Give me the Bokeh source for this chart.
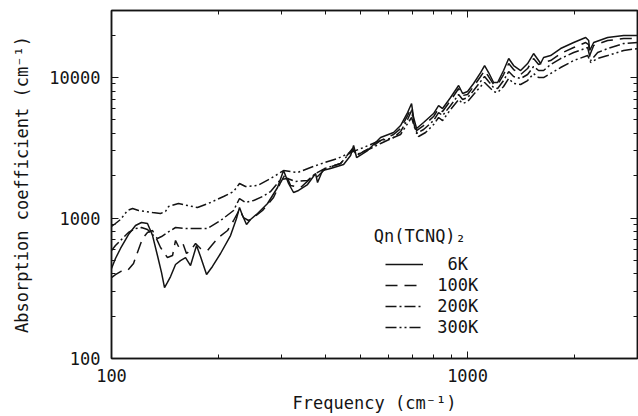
from bokeh.plotting import figure
from bokeh.models import (LogAxis, FixedTicker, PrintfTickFormatter, Legend, LegendItem,
                          Range1d, Label)
from bokeh.embed import file_html
from bokeh.resources import INLINE

# ---- data (frequency in cm^-1, absorption coefficient in cm^-1)
f_6k = [100, 102.6, 106.0, 111.6, 116.8, 121.4, 126.2, 130.4, 134.6, 138.2, 140.9, 143.6,
        146.5, 151.3, 156.2, 161.4, 166.7, 173.3, 177.8, 184.9, 192.1, 202.4, 215.9, 224.4,
        228.8, 233.3, 239.4, 245.7, 257.1, 274.3, 292.6, 304.2, 314.2, 324.5, 335.2, 355.2,
        374.1, 379.0, 391.5, 412.3, 448.5, 469.3, 478.5, 487.9, 523.8, 569.7, 619.6, 648.3,
        678.4, 696.1, 705.2, 719.0, 752.3, 802.6, 828.9, 850.7, 895.8, 943.6, 968.3, 1000,
        1039.6, 1087.7, 1116.2, 1145.5, 1183.1, 1214.2, 1261.9, 1304.5, 1346.4, 1408.9,
        1474.0, 1532.2, 1582.6, 1603.2, 1634.7, 1710.4, 1824.7, 1985.7, 2145.9, 2187.9,
        2202.1, 2259.8, 2473.6, 2743.3, 3003.6]
a_6k = [437, 515, 607, 763, 884, 929, 914, 750, 541, 409, 320, 348,
        383, 467, 498, 523, 459, 637, 532, 396, 452, 559, 750, 992,
        1188, 1042, 899, 976, 1076, 1269, 1649, 2178, 1761, 1519, 1570, 1732,
        2074, 1789, 2178, 2250, 2403, 2785, 3281, 2695, 3023, 3741, 4060, 4553,
        5634, 6531, 5192, 4335, 4783, 5543, 6319, 6016, 7206, 8770, 7692, 7948,
        9066, 10854, 12172, 10854, 9214, 9214, 11214, 13652, 12172, 11214,
        12579, 14818, 13213, 12579, 13877, 14339, 16082, 17746, 19271, 18337,
        15567, 17746, 19271, 19907, 19907]

f_100k = [100, 102.6, 106.0, 110.9, 115.3, 119.1, 122.2, 126.2, 130.4, 132.9, 137.3, 143.6,
          148.4, 151.3, 154.2, 158.3, 162.4, 166.7, 172.2, 177.8, 186.1, 192.1, 199.7, 211.8,
          220.2, 228.8, 234.8, 242.6, 250.6, 265.6, 285.1, 298.4, 308.2, 318.3, 339.6, 362.2,
          379.0, 399.2, 439.8, 475.4, 487.9, 534.0, 569.7, 619.6, 648.3, 678.4, 696.1, 705.2,
          719.0, 752.3, 802.6, 828.9, 850.7, 895.8, 943.6, 968.3, 1000, 1039.6, 1087.7,
          1116.2, 1145.5, 1183.1, 1214.2, 1261.9, 1304.5, 1346.4, 1408.9, 1474.0, 1532.2,
          1582.6, 1634.7, 1710.4, 1824.7, 1985.7, 2145.9, 2187.9, 2202.1, 2259.8, 2473.6,
          2743.3, 3003.6]
a_100k = [377, 396, 416, 423, 475, 597, 715, 789, 815, 738, 617, 523,
          541, 692, 627, 669, 559, 587, 658, 607, 587, 648, 726, 815,
          960, 1150, 1008, 960, 1008, 1131, 1399, 1789, 2074, 1703, 1649, 1910,
          1974, 2250, 2443, 3124, 2785, 3176, 3561, 3929, 4335, 5364, 6114, 5023,
          4196, 4553, 5277, 6016, 5728, 6859, 8350, 7446, 7569, 8630, 10165,
          11214, 10165, 8917, 8917, 10505, 12579, 11402, 10505, 11592, 13652,
          12377, 12792, 13213, 14818, 16354, 17746, 17178, 14339, 16894, 18337,
          18946, 18946]

f_200k = [100, 102.6, 106.0, 111.6, 116.8, 121.4, 126.2, 130.4, 134.6, 138.2, 143.6, 151.3,
          162.4, 172.2, 186.1, 202.4, 220.2, 228.8, 237.9, 250.6, 265.6, 279.8, 298.4, 312.1,
          328.7, 355.2, 374.1, 396.6, 439.8, 475.4, 487.9, 534.0, 569.7, 619.6, 648.3, 678.4,
          696.1, 705.2, 719.0, 752.3, 802.6, 828.9, 850.7, 895.8, 943.6, 968.3, 1000, 1039.6,
          1087.7, 1116.2, 1145.5, 1183.1, 1214.2, 1261.9, 1304.5, 1346.4, 1408.9, 1474.0,
          1532.2, 1582.6, 1634.7, 1710.4, 1824.7, 1985.7, 2173.8, 2216.5, 2318.6, 2473.6,
          2743.3, 3003.6]
a_200k = [587, 637, 692, 789, 842, 856, 828, 763, 715, 738, 789, 856,
          842, 842, 842, 960, 1131, 1376, 1290, 1332, 1422, 1544, 1879, 1910,
          1819, 1849, 2074, 2250, 2443, 3073, 2831, 3124, 3390, 3741, 4127, 5023,
          5822, 4783, 3994, 4265, 4942, 5634, 5364, 6319, 7569, 6972, 7206, 8080,
          9366, 10165, 9366, 8489, 8350, 9519, 11030, 10165, 9838, 10505,
          11974, 11214, 11214, 12377, 13652, 15066, 16354, 13213, 15066, 16082,
          17458, 17746]

f_300k = [100, 102.6, 106.0, 110.9, 114.6, 119.1, 124.6, 130.4, 137.3, 141.8, 144.6, 154.2,
          163.5, 174.4, 189.7, 206.4, 220.2, 228.8, 237.9, 257.1, 279.8, 304.2, 333.0, 362.2,
          396.6, 431.3, 469.3, 510.4, 558.7, 619.6, 648.3, 678.4, 696.1, 709.8, 728.4, 762.1,
          802.6, 828.9, 850.7, 895.8, 943.6, 968.3, 1000, 1039.6, 1087.7, 1116.2, 1145.5,
          1183.1, 1214.2, 1261.9, 1304.5, 1346.4, 1408.9, 1474.0, 1532.2, 1582.6, 1634.7,
          1710.4, 1824.7, 1985.7, 2173.8, 2216.5, 2318.6, 2473.6, 2743.3, 3003.6]
a_300k = [870, 914, 976, 1131, 1168, 1131, 1113, 1094, 1076, 1113, 1207, 1269,
          1227, 1188, 1290, 1422, 1544, 1761, 1676, 1703, 1910, 2178, 2108, 2288,
          2483, 2651, 2926, 3176, 3504, 3741, 3929, 4706, 5192, 4407, 3803, 4060,
          4629, 5192, 4942, 5918, 6972, 6531, 6748, 7569, 8630, 9214, 8630,
          7948, 7820, 8630, 9838, 9066, 8917, 9519, 10679, 10000, 10000,
          10679, 11783, 13213, 14339, 12792, 13652, 14339, 15567, 16082]

# ticks
x_major = [100, 1000]
x_minor = [200, 300, 400, 500, 600, 700, 800, 900, 2000, 3000]
y_major = [100, 1000, 10000]
y_minor = [200, 300, 400, 500, 600, 700, 800, 900,
           2000, 3000, 4000, 5000, 6000, 7000, 8000, 9000, 20000, 30000]

legend_title = "Qn(TCNQ)\u2082"
labels = ["\u2007\u20076K", "\u2007100K", "\u2007200K", "\u2007300K"]
x_label = "Frequency (cm\u207b\u00b9)"
y_label = "Absorption coefficient (cm\u207b\u00b9)"

FONT = "DejaVu Sans Mono"
INK = "#141414"

p = figure(width=638, height=416, x_axis_type="log", y_axis_type="log",
           x_range=Range1d(100, 3000), y_range=Range1d(100, 30000),
           output_backend="svg", toolbar_location=None,
           min_border_left=111, min_border_right=1, min_border_top=10, min_border_bottom=58)
p.background_fill_color = "white"
p.border_fill_color = "white"
p.outline_line_color = INK
p.outline_line_width = 1.5
p.xgrid.visible = False
p.ygrid.visible = False

def style_axis(ax, show_labels=True):
    ax.major_tick_in = 7
    ax.major_tick_out = 0
    ax.minor_tick_in = 4
    ax.minor_tick_out = 0
    ax.major_tick_line_color = INK
    ax.minor_tick_line_color = INK
    ax.axis_line_color = INK
    ax.axis_line_width = 1.5
    ax.formatter = PrintfTickFormatter(format="%d")
    ax.major_label_text_font = FONT
    if show_labels:
        ax.major_label_text_font_size = "17px"
        ax.major_label_text_color = INK
    else:
        ax.major_label_text_font_size = "0px"
        ax.major_label_text_color = None
        ax.major_label_standoff = 0

for ax in p.xaxis:
    style_axis(ax)
    ax.ticker = FixedTicker(ticks=x_major, minor_ticks=x_minor)
    ax.major_label_standoff = 10
for ax in p.yaxis:
    style_axis(ax)
    ax.ticker = FixedTicker(ticks=y_major, minor_ticks=y_minor)
    ax.major_label_standoff = 11

p.xaxis.axis_label = x_label
p.yaxis.axis_label = y_label
for ax in list(p.xaxis) + list(p.yaxis):
    ax.axis_label_text_font = FONT
    ax.axis_label_text_font_size = "17px"
    ax.axis_label_text_font_style = "normal"
    ax.axis_label_text_color = INK
p.xaxis.axis_label_standoff = 8
p.yaxis.axis_label_standoff = 14

top_ax = LogAxis(ticker=FixedTicker(ticks=x_major, minor_ticks=x_minor))
style_axis(top_ax, show_labels=False)
p.add_layout(top_ax, "above")
right_ax = LogAxis(ticker=FixedTicker(ticks=y_major, minor_ticks=y_minor))
style_axis(right_ax, show_labels=False)
p.add_layout(right_ax, "right")

lw = 1.5
r6 = p.line(f_6k, a_6k, line_color=INK, line_width=lw)
r100 = p.line(f_100k, a_100k, line_color=INK, line_width=lw, line_dash="12 7")
r200 = p.line(f_200k, a_200k, line_color=INK, line_width=lw, line_dash="11 3 2 3")
r300 = p.line(f_300k, a_300k, line_color=INK, line_width=lw, line_dash="11 3 2 3 2 3")

legend = Legend(items=[LegendItem(label=labels[0], renderers=[r6]),
                       LegendItem(label=labels[1], renderers=[r100]),
                       LegendItem(label=labels[2], renderers=[r200]),
                       LegendItem(label=labels[3], renderers=[r300])],
                location=(274, 21),
                label_text_font=FONT, label_text_font_size="17px", label_text_color=INK,
                glyph_width=38, glyph_height=20, label_standoff=4, spacing=1,
                padding=0, margin=0, border_line_color=None,
                background_fill_alpha=0)
p.add_layout(legend)

# legend heading, placed as an annotation just above the legend entries
title = Label(x=545, y=750, text=legend_title, text_font=FONT, text_font_size="17px",
              text_color=INK, text_baseline="middle", text_align="left")
p.add_layout(title)

open("out.html", "w").write(file_html(p, INLINE))
